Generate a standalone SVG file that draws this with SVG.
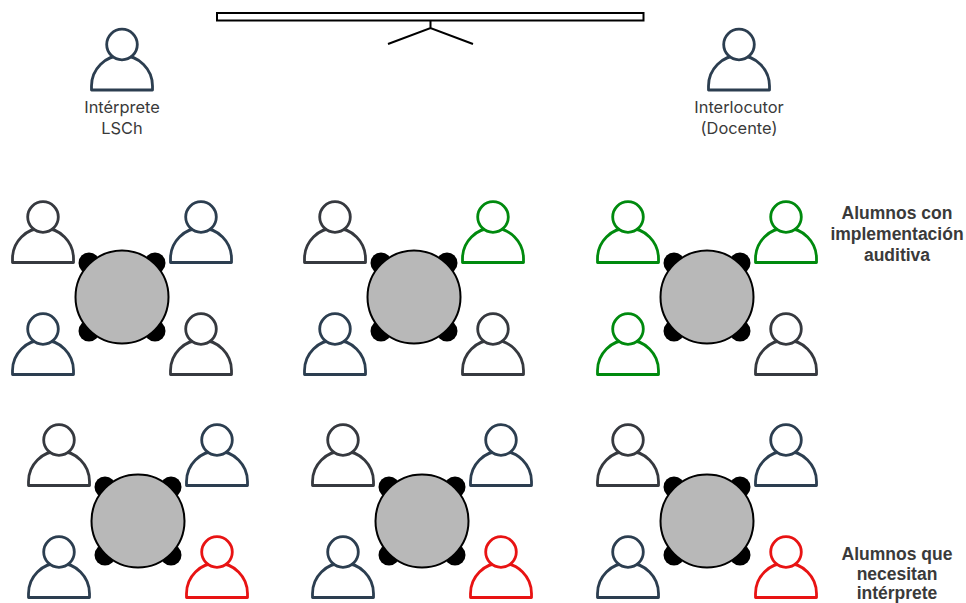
<svg xmlns="http://www.w3.org/2000/svg" width="966" height="603" viewBox="0 0 966 603">
<style>
.p{fill:#fff;stroke-width:2.800;stroke-linejoin:round}
.n{stroke:#2c3e50}.d{stroke:#36393f}.g{stroke:#008a0e}.r{stroke:#e81313}
.t{fill:#b8b8b8;stroke:#000;stroke-width:2}
.c{fill:#000}
.l{font-family:"Inter","Liberation Sans",sans-serif;font-size:16.400px;fill:#3a3a3a;text-anchor:middle}
.b{font-family:"Liberation Sans",sans-serif;font-size:17.500px;font-weight:700;fill:#3a3a3a;text-anchor:middle}
.s{fill:none;stroke:#000;stroke-width:2}
</style>
<defs>
<g id="person"><path d="M-30.500 45.500H30.500V41.500A30.500 30.500 0 0 0-30.500 41.500Z"/><circle r="15.300"/></g>
<g id="table"><circle class="c" cx="-33" cy="-34" r="10.500"/><circle class="c" cx="33" cy="-34" r="10.500"/><circle class="c" cx="-33" cy="34" r="10.500"/><circle class="c" cx="33" cy="34" r="10.500"/><circle class="t" r="46.500"/></g>
</defs>
<g id="screen"><rect x="217" y="13" width="426.500" height="7.500" fill="#fff" stroke="#000" stroke-width="2"/><path class="s" d="M430.500 20.500V28M388 44L430.500 28L473 44"/></g>
<g id="interprete"><use href="#person" x="122" y="44.500" class="p n"/><text class="l" x="122" y="113">Intérprete</text><text class="l" x="122" y="134">LSCh</text></g>
<g id="interlocutor"><use href="#person" x="739" y="44.500" class="p n"/><text class="l" x="739" y="113">Interlocutor</text><text class="l" x="739" y="134">(Docente)</text></g>
<g id="table1"><use href="#table" x="122" y="297"/><use href="#person" x="43" y="217" class="p d"/><use href="#person" x="201" y="217" class="p n"/><use href="#person" x="43" y="329" class="p n"/><use href="#person" x="201" y="329" class="p d"/></g>
<g id="table2"><use href="#table" x="414" y="297"/><use href="#person" x="335" y="217" class="p d"/><use href="#person" x="493" y="217" class="p g"/><use href="#person" x="335" y="329" class="p n"/><use href="#person" x="493" y="329" class="p d"/></g>
<g id="table3"><use href="#table" x="707" y="297"/><use href="#person" x="628" y="217" class="p g"/><use href="#person" x="786" y="217" class="p g"/><use href="#person" x="628" y="329" class="p g"/><use href="#person" x="786" y="329" class="p d"/></g>
<g id="table4"><use href="#table" x="138" y="521"/><use href="#person" x="59" y="440" class="p d"/><use href="#person" x="217" y="440" class="p n"/><use href="#person" x="59" y="552" class="p n"/><use href="#person" x="217" y="552" class="p r"/></g>
<g id="table5"><use href="#table" x="422" y="521"/><use href="#person" x="343" y="440" class="p d"/><use href="#person" x="501" y="440" class="p n"/><use href="#person" x="343" y="552" class="p n"/><use href="#person" x="501" y="552" class="p r"/></g>
<g id="table6"><use href="#table" x="707" y="521"/><use href="#person" x="628" y="440" class="p d"/><use href="#person" x="786" y="440" class="p n"/><use href="#person" x="628" y="552" class="p n"/><use href="#person" x="786" y="552" class="p r"/></g>
<g id="legend1"><text class="b" x="897" y="219">Alumnos con</text><text class="b" x="897" y="240">implementación</text><text class="b" x="897" y="261">auditiva</text></g>
<g id="legend2"><text class="b" x="897" y="560">Alumnos que</text><text class="b" x="897" y="580">necesitan</text><text class="b" x="897" y="599">intérprete</text></g>
</svg>
